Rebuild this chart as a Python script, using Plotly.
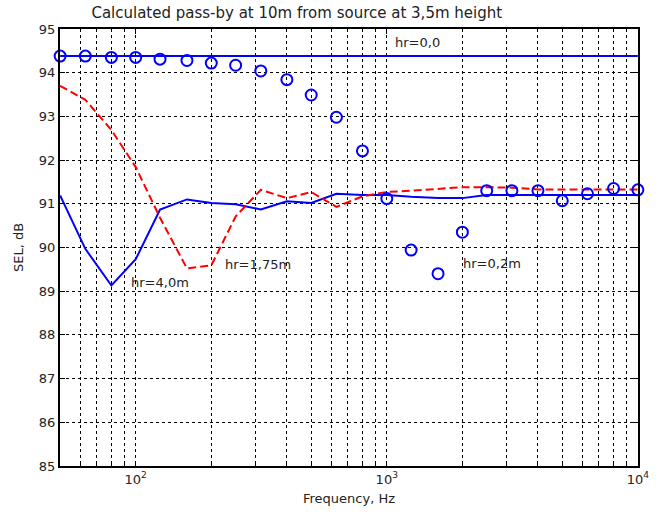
import plotly.graph_objects as go
import numpy as np

freq = [50, 63, 80, 100, 125, 160, 200, 250, 315, 400, 500, 630, 800,
        1000, 1250, 1600, 2000, 2500, 3150, 4000, 5000, 6300, 8000, 10000]

hr_00 = [94.38] * len(freq)

hr_02 = [94.38, 94.38, 94.35, 94.35, 94.31, 94.28, 94.22, 94.17, 94.04, 93.84,
         93.49, 92.98, 92.21, 91.12, 89.94, 89.40, 90.35, 91.30, 91.30, 91.30,
         91.07, 91.23, 91.35, 91.32]

hr_175 = [93.70, 93.38, 92.69, 91.84, 90.68, 89.52, 89.59, 90.71, 91.32, 91.13,
          91.27, 90.93, 91.17, 91.27, 91.30, 91.34, 91.38, 91.38, 91.37, 91.33,
          91.33, 91.33, 91.33, 91.33]

hr_40 = [91.19, 89.97, 89.13, 89.73, 90.87, 91.10, 91.02, 90.99, 90.87, 91.06,
         91.02, 91.23, 91.20, 91.20, 91.16, 91.13, 91.13, 91.20, 91.20, 91.20,
         91.20, 91.20, 91.20, 91.20]

y_ticks = list(range(85, 96))
x_major = [100, 1000, 10000]
x_major_text = ["10<sup>2</sup>", "10<sup>3</sup>", "10<sup>4</sup>"]
x_minor = [60, 70, 80, 90, 200, 300, 400, 500, 600, 700, 800, 900,
           2000, 3000, 4000, 5000, 6000, 7000, 8000, 9000]

FONT = "DejaVu Sans, Liberation Sans, Arial, sans-serif"
TXT = "#222222"
BLUE = "#0000ff"
RED = "#ff0000"

fig = go.Figure()
fig.add_trace(go.Scatter(x=freq, y=hr_00, mode="lines",
                         line=dict(color=BLUE, width=2), showlegend=False))
fig.add_trace(go.Scatter(x=freq, y=hr_40, mode="lines",
                         line=dict(color=BLUE, width=2), showlegend=False))
fig.add_trace(go.Scatter(x=freq, y=hr_175, mode="lines",
                         line=dict(color=RED, width=2, dash="8px,4px"), showlegend=False))
fig.add_trace(go.Scatter(x=freq, y=hr_02, mode="markers",
                         marker=dict(symbol="circle-open", size=11, color=BLUE,
                                     line=dict(width=2, color=BLUE)),
                         showlegend=False, cliponaxis=False))

annotations = [
    ("hr=0,0", 1060, 94.70),
    ("hr=4,0m", 94, 89.19),
    ("hr=1,75m", 222, 89.62),
    ("hr=0,2m", 1966, 89.64),
]
for txt, xv, yv in annotations:
    fig.add_annotation(x=np.log10(xv), y=yv, xref="x", yref="y", text=txt,
                       showarrow=False, xanchor="left", yanchor="middle",
                       font=dict(family=FONT, size=13, color=TXT))

fig.update_layout(
    width=661, height=517,
    margin=dict(l=60, r=12, t=29, b=51),
    paper_bgcolor="white", plot_bgcolor="white",
    font=dict(family=FONT, size=13, color=TXT),
    title=dict(text="Calculated pass-by at 10m from source at 3,5m height",
               x=0.449, xanchor="center", y=0.975, yanchor="middle",
               font=dict(family=FONT, size=15, color=TXT)),
)
fig.update_xaxes(
    type="log", range=[np.log10(50) - 0.0005, 4.0005],
    tickmode="array", tickvals=x_major, ticktext=x_major_text,
    showgrid=True, gridcolor="black", griddash="dot", gridwidth=1,
    minor=dict(tickmode="array", tickvals=x_minor, showgrid=True,
               gridcolor="black", griddash="dot", gridwidth=1,
               ticks="inside", ticklen=3, tickcolor="black"),
    showline=True, linecolor="black", linewidth=2, mirror="ticks",
    ticks="inside", ticklen=5, tickcolor="black",
    zeroline=False,
    title=dict(text="Frequency, Hz", standoff=8,
               font=dict(family=FONT, size=13, color=TXT)),
    tickfont=dict(family=FONT, size=13, color=TXT),
)
fig.update_yaxes(
    range=[85, 95], tickmode="array", tickvals=y_ticks,
    ticktext=[str(v) for v in y_ticks],
    showgrid=True, gridcolor="black", griddash="dot", gridwidth=1,
    showline=True, linecolor="black", linewidth=2, mirror="ticks",
    ticks="inside", ticklen=5, tickcolor="black",
    zeroline=False,
    title=dict(text="SEL, dB", standoff=12,
               font=dict(family=FONT, size=13, color=TXT)),
    tickfont=dict(family=FONT, size=13, color=TXT),
)

fig.write_html("out.html")
